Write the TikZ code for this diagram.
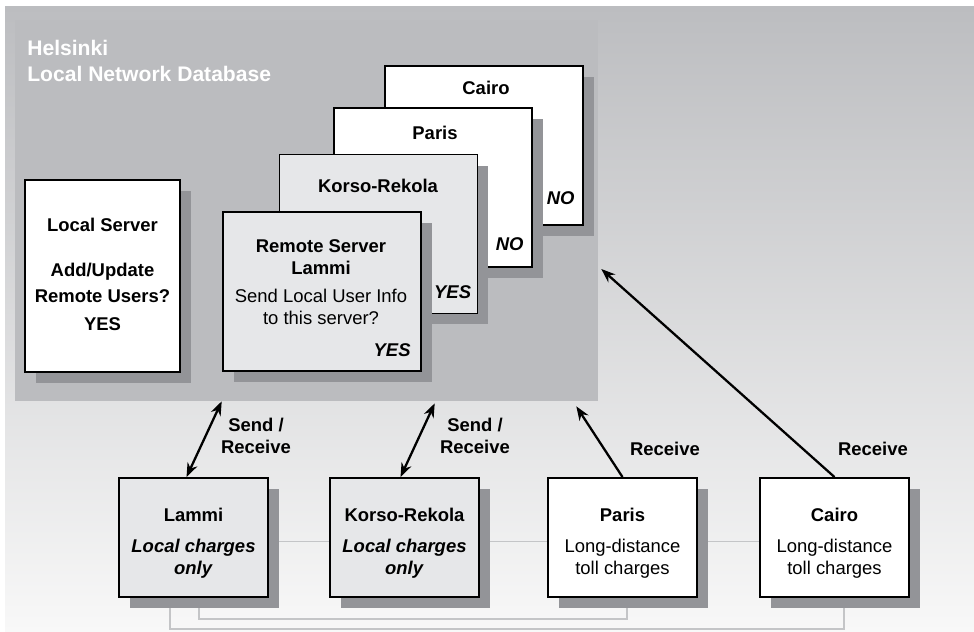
\documentclass[tikz,border=0pt]{standalone}
\usepackage{fontspec}
\setmainfont{Liberation Sans}
\usetikzlibrary{arrows.meta, calc, shadows, backgrounds}
\definecolor{bgtop}{HTML}{BCBDC0}
\definecolor{bgbot}{HTML}{F8F8F8}
\definecolor{helgray}{HTML}{BBBCBF}
\definecolor{boxlt}{HTML}{E6E7E9}
\definecolor{shd}{HTML}{939498}
\definecolor{wirec}{HTML}{C4C5C7}
\tikzset{
    box/.style={draw, line width=1.1pt, inner sep=0pt, fill=white,
        drop shadow={shadow xshift=0.22cm, shadow yshift=-0.22cm, fill=shd, opacity=1}},
    stack/.style={box, minimum width=3.96cm, minimum height=3.18cm},
    site/.style={box, minimum width=2.98cm, minimum height=2.38cm},
    txt/.style={inner sep=0pt, align=center, anchor=north, font=\fontsize{10.5}{12.5}\selectfont},
    btxt/.style={txt, font=\fontsize{10.5}{12.5}\selectfont\bfseries},
    ans/.style={inner sep=0pt, anchor=base east, font=\fontsize{10.5}{12.5}\selectfont\bfseries\itshape},
    wire/.style={draw=wirec, line width=1pt},
    link/.style={line width=1.3pt, >={Stealth[length=8pt, width=6pt]}}
}

\begin{document}
\begin{tikzpicture}[x=0.02cm, y=-0.02cm]
    \useasboundingbox (0,0) rectangle (974,632);

    \node[anchor=north west, inner sep=0pt, align=left, text=white,
        font=\fontsize{12}{14.8}\selectfont\bfseries] (title) at (27,40) {Helsinki\\Local Network Database};

    % local server
    \node[box, minimum width=3.1cm, minimum height=3.84cm] (ls) at (102.5,276) {};
    \node[btxt] (lsT) at (102.5,218) {Local Server\\[13pt]Add/Update\\[2.5pt]Remote Users?\\[3.5pt]YES};

    % remote servers
    \node[stack] (tc) at (484,145.5) {};
    \node[btxt] (tcT) at (486,81) {Cairo};
    \node[ans] (tcA) at ($(tc.south east)+(-9,-21)$) {NO};
    \node[stack] (tp) at (433,187.5) {};
    \node[btxt] (tpT) at (435,126) {Paris};
    \node[ans] (tpA) at ($(tp.south east)+(-9,-17)$) {NO};
    \node[stack, fill=boxlt] (tk) at (378.5,234) {};
    \node[btxt] (tkT) at (378,179) {Korso-Rekola};
    \node[ans] (tkA) at ($(tk.south east)+(-7,-16)$) {YES};
    \node[stack, fill=boxlt] (tl) at (322,291.5) {};
    \node[txt] (tlT) at (321,239) {\textbf{Remote Server}\\\textbf{Lammi}\\[3.4pt]Send Local User Info\\to this server?};
    \node[ans] (tlA) at ($(tl.south east)+(-11,-15)$) {YES};

    % sites
    \node[site, fill=boxlt] (bl) at (193.5,537.5) {};
    \node[btxt] (blT) at (193.5,508) {Lammi\\[5pt]\textit{Local charges}\\\textit{only}};
    \node[site, fill=boxlt] (bk) at (404.5,537.5) {};
    \node[btxt] (bkT) at (404.5,508) {Korso-Rekola\\[5pt]\textit{Local charges}\\\textit{only}};
    \node[site] (bp) at (622.5,537.5) {};
    \node[txt] (bpT) at (622.5,508) {\textbf{Paris}\\[5pt]Long-distance\\toll charges};
    \node[site] (bc) at (834.5,537.5) {};
    \node[txt] (bcT) at (834.5,508) {\textbf{Cairo}\\[5pt]Long-distance\\toll charges};

    \begin{scope}[on background layer]
        \shade[top color=bgtop, bottom color=bgbot] (5,6) rectangle (974,632);
        % Helsinki database area
        \node[fill=helgray, inner sep=0pt, minimum width=11.66cm, minimum height=7.62cm] (hel) at (306.5,210.5) {};
        % wires between the sites
        \draw[wire] ($(bl.east)+(0,4)$) -- ($(bk.west)+(0,4)$);
        \draw[wire] ($(bk.east)+(0,4)$) -- ($(bp.west)+(0,4)$);
        \draw[wire] ($(bp.east)+(0,4)$) -- ($(bc.west)+(0,4)$);
        \draw[wire] ($(bl.south west)+(52,0)$) -- ++(0,31) -| ($(bc.south west)+(85,0)$);
        \draw[wire] ($(bl.south west)+(81,0)$) -- ++(0,21) -| ($(bp.south west)+(80,0)$);
    \end{scope}

    % traffic
    \draw[link, <->] ($(bl.north)+(-7,0)$) -- ($(hel.south west)+(207,0)$);
    \draw[link, <->] ($(bk.north)+(-4,0)$) -- ($(hel.south west)+(420,2)$);
    \draw[link, ->] (bp.north) -- ($(hel.south east)+(-22,5)$);
    \draw[link, ->] (bc.north) -- ($(hel.east)+(3,58.5)$);
    \node[btxt] (sr1) at (256,418) {Send /\\Receive};
    \node[btxt] (sr2) at (475,418) {Send /\\Receive};
    \node[btxt] (rc1) at (665,442) {Receive};
    \node[btxt] (rc2) at (873,442) {Receive};
\end{tikzpicture}
\end{document}
